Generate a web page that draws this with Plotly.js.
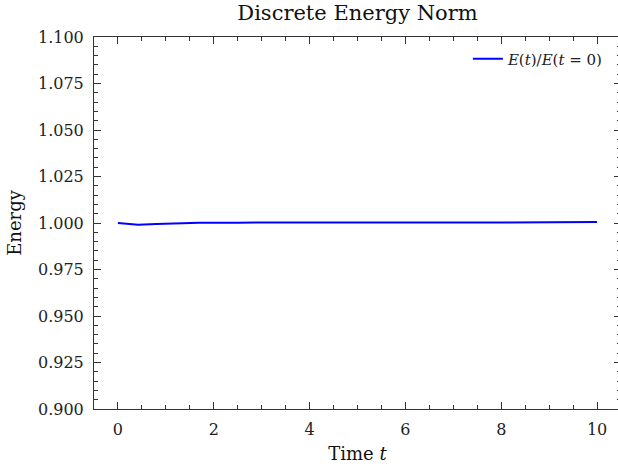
<!DOCTYPE html>
<html>
<head>
<meta charset="utf-8">
<script src="https://cdn.plot.ly/plotly-3.0.1.min.js"></script>
<style>
html,body{margin:0;padding:0;overflow:hidden;background:#fff;}
#chart{width:622px;height:466px;}
</style>
</head>
<body>
<div id="chart"></div>
<script>
const timeValues = [0, 0.42, 0.8, 1.2, 1.7, 2.5, 3.5, 5, 6, 7, 8, 9, 10];
const energyRatio = [1.0000, 0.9991, 0.9995, 0.9999, 1.0001, 1.0002, 1.0003, 1.0003, 1.0003, 1.0003, 1.0003, 1.0004, 1.0005];
const seriesName = '<i>E</i>(<i>t</i>)/<i>E</i>(<i>t</i> = 0)';
const yTickVals = [0.900, 0.925, 0.950, 0.975, 1.000, 1.025, 1.050, 1.075, 1.100];
const yTickText = ['0.900', '0.925', '0.950', '0.975', '1.000', '1.025', '1.050', '1.075', '1.100'];

const font = 'DejaVu Serif, serif';
const data = [{
  x: timeValues, y: energyRatio, type: 'scatter', mode: 'lines',
  name: seriesName, line: {color: '#0000ff', width: 2}
}];
const axisCommon = {
  showline: true, linecolor: '#333', linewidth: 1, mirror: 'allticks',
  ticks: 'inside', tickcolor: '#333', tickwidth: 1, ticklen: 7,
  showgrid: false, zeroline: false,
  tickfont: {family: font, size: 16, color: '#222'}
};
const layout = {
  width: 622, height: 466,
  margin: {l: 94, r: 1, t: 37, b: 57},
  paper_bgcolor: '#fff', plot_bgcolor: '#fff',
  font: {family: font, color: '#222'},
  title: {text: 'Discrete Energy Norm', font: {family: font, size: 21, color: '#111'},
          x: 0.5, xref: 'paper', y: 0.972, yanchor: 'middle'},
  showlegend: true,
  legend: {x: 0.977, y: 0.985, xanchor: 'right', yanchor: 'top', bgcolor: 'rgba(0,0,0,0)',
           font: {family: font, size: 15, color: '#222'}},
  xaxis: Object.assign({}, axisCommon, {
    range: [-0.5, 10.5], tickmode: 'linear', tick0: 0, dtick: 2,
    minor: {ticks: 'inside', ticklen: 4, tickcolor: '#333', dtick: 0.5, tick0: 0, showgrid: false},
    title: {text: 'Time <i>t</i>', font: {family: font, size: 18, color: '#111'}, standoff: 9},
    ticklabelstandoff: 6
  }),
  yaxis: Object.assign({}, axisCommon, {
    range: [0.9, 1.1], tickmode: 'array', tickvals: yTickVals, ticktext: yTickText,
    minor: {ticks: 'inside', ticklen: 4, tickcolor: '#333', dtick: 0.005, tick0: 0.9, showgrid: false},
    title: {text: 'Energy', font: {family: font, size: 18, color: '#111'}, standoff: 11},
    ticklabelstandoff: 6
  })
};
Plotly.newPlot('chart', data, layout, {displayModeBar: false, staticPlot: true});
</script>
</body>
</html>
